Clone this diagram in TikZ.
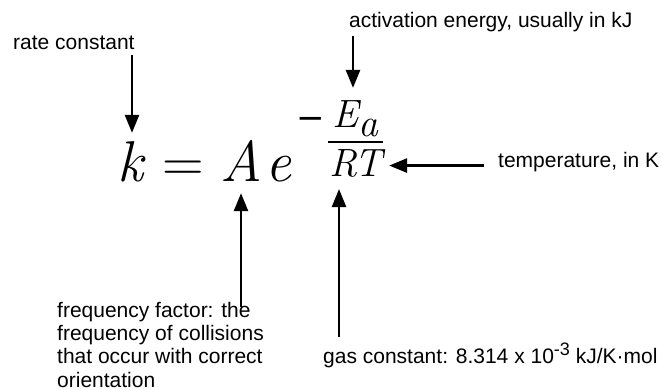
\documentclass[tikz,border=0pt]{standalone}
\usepackage{fontspec}
\newfontfamily\lab{Liberation Sans}
\newfontfamily\dvs{DejaVu Sans}
\usetikzlibrary{arrows.meta}
\tikzset{
  eqn/.style={inner sep=0pt, font=\fontsize{57.6}{60}\selectfont\itshape\addfontfeature{FakeBold=2}},
  eqsym/.style={inner sep=0pt, font=\fontsize{57.6}{60}\selectfont\upshape\addfontfeature{FakeBold=2}},
  fracn/.style={inner sep=0pt, font=\fontsize{39.5}{42}\selectfont\itshape\addfontfeature{FakeBold=2}},
  minusn/.style={inner sep=0pt, font=\dvs\fontsize{34}{36}\selectfont},
  lbl/.style={inner sep=0pt, font=\lab\fontsize{21}{23.3}\selectfont},
  arr/.style={line width=2.6pt, -{Triangle[length=18pt,width=14pt]}},
  barline/.style={line width=1.8pt}
}
\begin{document}
\begin{tikzpicture}[x=1pt,y=-1pt]
\useasboundingbox[fill=white] (0,0) rectangle (661,390);
% equation
\node[eqn, anchor=base] (k) at (130,182) {k};
\node[eqsym, anchor=base] (eq) at (183.5,182) {=};
\node[eqn, anchor=base] (A) at (241,182) {A};
\node[eqn, anchor=base] (e) at (278.5,182) {e};
\node[minusn, anchor=center] (minus) at (311,123) {−};
\node[fracn, anchor=base] (Ea) at (355,128) {E\raisebox{-9pt}{a}};
\node[fracn, anchor=base] (RT) at (355.5,177) {RT};
\coordinate (barL) at (328,142);
\coordinate (barR) at (383,142);
\draw[barline] (barL) -- (barR);
% labels
\node[lbl, anchor=base west] (rc) at (13,50) {rate constant};
\node[lbl, anchor=base west] (ae) at (349,28) {activation energy, usually in kJ};
\node[lbl, anchor=base west] (temp) at (498,168) {temperature, in K};
\node[lbl, anchor=north west, align=left] (ff) at (57,301.7)
  {frequency factor: the\\frequency of collisions\\that occur with correct\\orientation};
\node[lbl, anchor=base west] (gc) at (323,363)
  {gas constant: 8.314 x 10\raisebox{8pt}{\fontsize{18}{18}\selectfont -3} kJ/K\textperiodcentered mol};
% arrows
\draw[arr, shorten <=5pt, shorten >=9pt] ([xshift=2pt]k.north |- rc.south) -- ([xshift=2pt]k.north);
\draw[arr, shorten <=3.6pt, shorten >=13pt] ([xshift=4pt]ae.south west) -- ([xshift=4pt]ae.south west |- Ea.north);
\draw[arr, shorten <=-5pt, shorten >=11pt] (A.south |- ff.north) -- (A.south);
\draw[arr, shorten <=5pt, shorten >=11pt] ([xshift=16pt]gc.north west) -- ([xshift=16pt]gc.north west |- RT.south);
\draw[arr, shorten <=14pt, shorten >=7pt] ([yshift=-3pt]temp.west) -- ([yshift=-3pt]temp.west -| RT.east);
\end{tikzpicture}
\end{document}
